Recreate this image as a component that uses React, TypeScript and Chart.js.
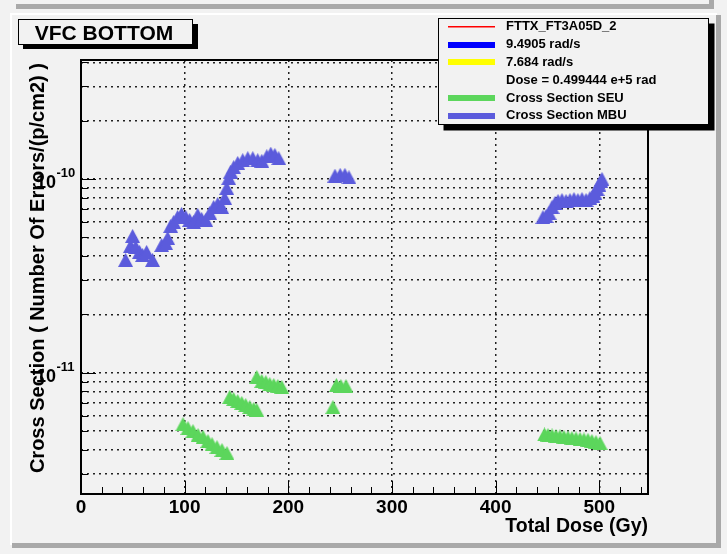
import React, { useEffect, useRef } from 'react';
import { Chart, registerables } from 'chart.js';

Chart.register(...registerables);

// ---- data ----
const mbuDose = [43, 47.8, 49.8, 52.7, 56.5, 59.4, 63.3, 69, 77.8, 81.6, 83.6, 86.5, 89.4, 93.2, 97, 101, 104.8, 108.7, 112.6, 116.4, 120.3, 124.2, 128, 131.9, 135.7, 138.6, 140.6, 142.5, 144.4, 147.3, 151.2, 156, 160.9, 165.7, 170.5, 174.4, 179.2, 183.1, 187, 190.8, 245, 250, 254.6, 258.5, 445.7, 448.6, 451.5, 454.4, 457.3, 460.2, 464, 467.9, 471.7, 475.6, 479.4, 483.3, 487.2, 491, 493.9, 495.8, 497.8, 499.7, 501.6, 502.6];
const mbuCross = [3.82e-11, 4.51e-11, 5.08e-11, 4.46e-11, 4.2e-11, 4.05e-11, 4.2e-11, 3.82e-11, 4.56e-11, 4.67e-11, 4.96e-11, 5.72e-11, 6.0e-11, 6.37e-11, 6.6e-11, 6.37e-11, 6.14e-11, 6.0e-11, 6.52e-11, 6.22e-11, 6.14e-11, 6.68e-11, 7.17e-11, 7.43e-11, 7.17e-11, 7.98e-11, 8.99e-11, 1.01e-10, 1.09e-10, 1.15e-10, 1.21e-10, 1.25e-10, 1.28e-10, 1.28e-10, 1.25e-10, 1.24e-10, 1.31e-10, 1.35e-10, 1.33e-10, 1.28e-10, 1.04e-10, 1.05e-10, 1.05e-10, 1.02e-10, 6.36e-11, 6.44e-11, 6.68e-11, 7.17e-11, 7.52e-11, 7.7e-11, 7.79e-11, 7.7e-11, 7.79e-11, 7.88e-11, 7.79e-11, 7.88e-11, 7.79e-11, 7.98e-11, 8.17e-11, 8.47e-11, 8.88e-11, 9.31e-11, 9.76e-11, 1.0e-10];

const seuDose = [98.4, 103.2, 108, 112.9, 117.7, 122.5, 126.4, 131.2, 136, 140.8, 143.5, 147.3, 151.2, 155.1, 158.9, 162.8, 166.7, 169.6, 169.6, 174.4, 178.3, 182.1, 186, 189.9, 193.7, 243, 246.4, 250.7, 255.6, 447.1, 450.5, 454.4, 458.2, 462.1, 465.9, 469.8, 473.6, 477.5, 481.4, 485.2, 489.1, 492.9, 496.8, 500.7];
const seuCross = [5.43e-12, 5.18e-12, 5.0e-12, 4.77e-12, 4.66e-12, 4.44e-12, 4.28e-12, 4.13e-12, 3.99e-12, 3.85e-12, 7.49e-12, 7.31e-12, 7.14e-12, 6.98e-12, 6.81e-12, 6.65e-12, 6.5e-12, 6.42e-12, 9.5e-12, 9.06e-12, 8.95e-12, 8.74e-12, 8.64e-12, 8.54e-12, 8.44e-12, 6.65e-12, 8.64e-12, 8.54e-12, 8.54e-12, 4.8e-12, 4.77e-12, 4.74e-12, 4.71e-12, 4.69e-12, 4.66e-12, 4.63e-12, 4.6e-12, 4.58e-12, 4.55e-12, 4.52e-12, 4.5e-12, 4.44e-12, 4.39e-12, 4.34e-12];

const xTickValues = [0, 100, 200, 300, 400, 500];
const xTickLabels = ['0', '100', '200', '300', '400', '500'];
const xGridValues = [100, 200, 300, 400, 500];
const yMajorValues = [1e-11, 1e-10];
const yMajorExponents = ['-11', '-10'];
const yGridValues = [3e-12, 4e-12, 5e-12, 6e-12, 7e-12, 8e-12, 9e-12, 1e-11, 2e-11, 3e-11, 4e-11, 5e-11, 6e-11, 7e-11, 8e-11, 9e-11, 1e-10, 2e-10, 3e-10, 4e-10];

const legendLabels = ['FTTX_FT3A05D_2', '9.4905 rad/s', '7.684 rad/s', 'Dose = 0.499444 e+5 rad', 'Cross Section SEU', 'Cross Section MBU'];
const legendColors = ['#ff0000', '#0000ff', '#ffff00', '', '#5cd65c', '#5b5bdc'];
const legendWidths = [1, 6, 6, 0, 6, 6];

const titleText = 'VFC BOTTOM';
const xTitle = 'Total Dose (Gy)';
const yTitle = 'Cross Section ( Number Of Errors/(p/cm2) )';

const X_MIN = 0;
const X_MAX = 547;
const Y_MIN = 2.365e-12;
const Y_MAX = 4.11e-10;

const SEU_COLOR = '#5cd65c';
const MBU_COLOR = '#5b5bdc';
const FONT = '"Liberation Sans", Arial, Helvetica, sans-serif';
const BG = '#f2f2f2';

function makeTriangle(color: string): HTMLCanvasElement {
  const c = document.createElement('canvas');
  c.width = 15;
  c.height = 14;
  const g = c.getContext('2d')!;
  g.fillStyle = color;
  g.beginPath();
  g.moveTo(7.5, 0);
  g.lineTo(15, 14);
  g.lineTo(0, 14);
  g.closePath();
  g.fill();
  return c;
}

const decorPlugin = {
  id: 'rootDecor',
  beforeDraw(chart: any) {
    const ctx = chart.ctx;
    const W = chart.width;
    const H = chart.height;
    ctx.save();
    ctx.fillStyle = BG;
    ctx.fillRect(0, 0, W, H);
    ctx.fillStyle = '#a9a9a9';
    ctx.fillRect(16, 4, 695, 5);
    ctx.fillRect(709, 0, 5, 9);
    ctx.fillStyle = '#ffffff';
    ctx.fillRect(10, 13, 707, 2);
    ctx.fillRect(10, 13, 2, 532);
    ctx.fillStyle = '#a9a9a9';
    ctx.fillRect(716, 15, 5, 533);
    ctx.fillRect(12, 543, 709, 5);
    ctx.restore();
  },
  afterDraw(chart: any) {
    const ctx = chart.ctx;
    const xs = chart.scales.x;
    const ys = chart.scales.y;
    const a = chart.chartArea;
    ctx.save();

    ctx.strokeStyle = '#000';
    ctx.lineWidth = 2;
    ctx.strokeRect(a.left, a.top, a.right - a.left, a.bottom - a.top);

    ctx.lineWidth = 1;
    ctx.beginPath();
    for (let v = 0; v <= X_MAX; v += 20) {
      const px = Math.round(xs.getPixelForValue(v)) + 0.5;
      const len = v % 100 === 0 ? 13 : 7;
      ctx.moveTo(px, a.bottom);
      ctx.lineTo(px, a.bottom - len);
    }
    for (const v of yGridValues) {
      const py = Math.round(ys.getPixelForValue(v)) + 0.5;
      const major = yMajorValues.some((m) => Math.abs(m - v) / m < 1e-6);
      const len = major ? 15 : 7;
      ctx.moveTo(a.left, py);
      ctx.lineTo(a.left + len, py);
    }
    ctx.stroke();

    ctx.fillStyle = '#000';
    ctx.font = `bold 19px ${FONT}`;
    ctx.textAlign = 'center';
    ctx.textBaseline = 'alphabetic';
    xTickValues.forEach((v, i) => {
      ctx.fillText(xTickLabels[i], xs.getPixelForValue(v), 513);
    });

    yMajorValues.forEach((v, i) => {
      const py = ys.getPixelForValue(v);
      ctx.font = `bold 18px ${FONT}`;
      ctx.textAlign = 'right';
      ctx.fillText('10', 56, py + 9);
      ctx.font = `bold 13px ${FONT}`;
      ctx.textAlign = 'left';
      ctx.fillText(yMajorExponents[i], 56.5, py - 2);
    });

    ctx.font = `bold 19.5px ${FONT}`;
    ctx.textAlign = 'right';
    ctx.fillText(xTitle, a.right, 532);
    ctx.save();
    ctx.translate(44, 63);
    ctx.rotate(-Math.PI / 2);
    ctx.font = `bold 20px ${FONT}`;
    ctx.textAlign = 'right';
    ctx.fillText(yTitle, 0, 0);
    ctx.restore();

    ctx.fillStyle = '#000';
    ctx.fillRect(23, 24, 175, 25);
    ctx.fillStyle = BG;
    ctx.fillRect(18.5, 19.5, 174, 25);
    ctx.strokeStyle = '#000';
    ctx.lineWidth = 1;
    ctx.strokeRect(18.5, 19.5, 174, 25);
    ctx.fillStyle = '#000';
    ctx.font = `bold 21px ${FONT}`;
    ctx.textAlign = 'center';
    ctx.fillText(titleText, 104, 39.5);

    const lx = 438.5, ly = 18.5, lw = 270, lh = 106;
    ctx.fillStyle = '#000';
    ctx.fillRect(lx + 5, ly + 5, lw + 1, lh + 1);
    ctx.fillStyle = BG;
    ctx.fillRect(lx, ly, lw, lh);
    ctx.strokeStyle = '#000';
    ctx.lineWidth = 1;
    ctx.strokeRect(lx, ly, lw, lh);
    ctx.font = `bold 13px ${FONT}`;
    ctx.textAlign = 'left';
    ctx.textBaseline = 'middle';
    legendLabels.forEach((lab, i) => {
      const y = 26.8 + i * 17.8;
      const w = legendWidths[i];
      if (w > 0) {
        ctx.fillStyle = legendColors[i];
        const h = w === 1 ? 1.5 : w;
        ctx.fillRect(448, Math.round(y - h / 2), 47, h);
      }
      ctx.fillStyle = '#000';
      ctx.fillText(lab, 506, y);
    });

    ctx.restore();
  },
};

export default function App() {
  const ref = useRef<HTMLCanvasElement | null>(null);
  useEffect(() => {
    if (!ref.current) return;
    const mbu = mbuDose.map((x, i) => ({ x, y: mbuCross[i] }));
    const seu = seuDose.map((x, i) => ({ x, y: seuCross[i] }));
    const seuTri = makeTriangle(SEU_COLOR);
    const mbuTri = makeTriangle(MBU_COLOR);
    const chart = new Chart(ref.current, {
      type: 'scatter',
      data: {
        datasets: [
          {
            label: 'Cross Section SEU',
            data: seu,
            pointStyle: seuTri,
            pointRadius: 7,
            backgroundColor: SEU_COLOR,
            borderColor: SEU_COLOR,
            borderWidth: 0,
            showLine: false,
          },
          {
            label: 'Cross Section MBU',
            data: mbu,
            pointStyle: mbuTri,
            pointRadius: 7,
            backgroundColor: MBU_COLOR,
            borderColor: MBU_COLOR,
            borderWidth: 0,
            showLine: false,
          },
        ],
      },
      options: {
        responsive: false,
        animation: false,
        events: [],
        layout: { padding: { top: 60, left: 0, right: 79, bottom: 0 } },
        plugins: { legend: { display: false }, title: { display: false }, tooltip: { enabled: false } },
        scales: {
          x: {
            type: 'linear',
            min: X_MIN,
            max: X_MAX,
            afterBuildTicks: (s: any) => {
              s.ticks = xGridValues.map((v) => ({ value: v }));
            },
            afterFit: (s: any) => {
              s.height = 60;
            },
            ticks: { display: false },
            grid: { color: '#222', lineWidth: 1.5, drawTicks: false },
            border: { display: false, dash: [2, 4] },
          },
          y: {
            type: 'logarithmic',
            min: Y_MIN,
            max: Y_MAX,
            afterBuildTicks: (s: any) => {
              s.ticks = yGridValues.map((v) => ({ value: v }));
            },
            afterFit: (s: any) => {
              s.width = 81;
            },
            ticks: { display: false },
            grid: { color: '#222', lineWidth: 1.5, drawTicks: false },
            border: { display: false, dash: [2, 4] },
          },
        },
      },
      plugins: [decorPlugin],
    } as any);
    return () => chart.destroy();
  }, []);
  return (
    <div style={{ position: 'fixed', left: 0, top: 0, width: 727, height: 554 }}>
      <canvas ref={ref} width={727} height={554} style={{ display: 'block' }} />
    </div>
  );
}
